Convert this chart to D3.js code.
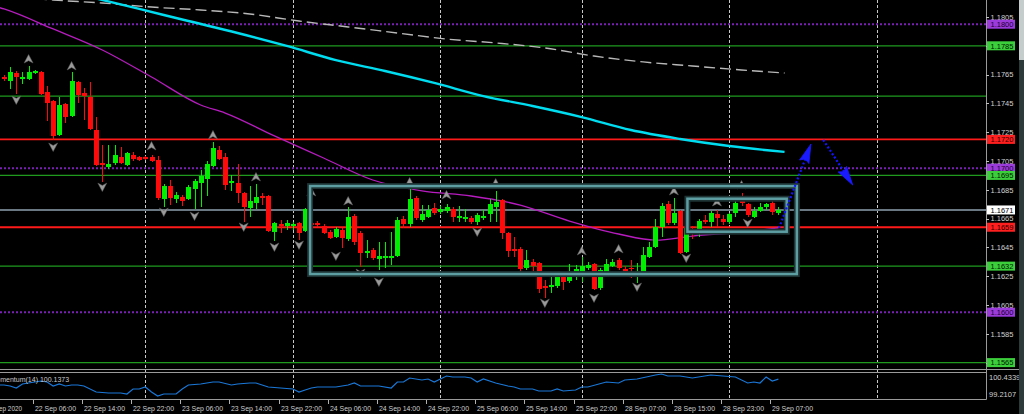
<!DOCTYPE html>
<html><head><meta charset="utf-8">
<script src="https://cdnjs.cloudflare.com/ajax/libs/d3/7.8.5/d3.min.js"></script>
<style>html,body{margin:0;padding:0;background:#000;overflow:hidden}svg{display:block}</style>
</head><body>
<svg id="chart" width="1024" height="414"></svg>
<script>
// ---------- DATA (EURUSD H1, bar index 0 = 22 Sep 01:00) ----------
const opens = [1.17633,1.17606,1.17661,1.17619,1.17619,1.17661,1.17668,1.17529,1.17467,1.17230,
1.17446,1.17362,1.17599,1.17522,1.17494,1.17265,1.17036,1.17008,1.17036,1.17078,
1.17022,1.17092,1.17078,1.17078,1.17078,1.17057,1.16786,1.16876,1.16786,1.16800,
1.16786,1.16856,1.16897,1.16925,1.17015,1.17126,1.17078,1.16897,1.16897,1.16828,
1.16724,1.16758,1.16807,1.16807,1.16557,1.16612,1.16599,1.16599,1.16619,1.16564,
1.16619,1.16619,1.16599,1.16557,1.16522,1.16571,1.16508,1.16668,1.16550,1.16411,
1.16432,1.16369,1.16376,1.16376,1.16390,1.16647,1.16612,1.16793,1.16640,1.16661,
1.16724,1.16696,1.16703,1.16717,1.16654,1.16647,1.16654,1.16626,1.16654,1.16682,
1.16731,1.16779,1.16550,1.16439,1.16439,1.16307,1.16349,1.16342,1.16182,1.16175,
1.16182,1.16251,1.16217,1.16265,1.16272,1.16307,1.16335,1.16168,1.16279,1.16321,
1.16363,1.16300,1.16307,1.16272,1.16272,1.16383,1.16453,1.16592,1.16751,1.16619,
1.16703,1.16418,1.16578,1.16564,1.16640,1.16626,1.16682,1.16647,1.16626,1.16689,
1.16772,1.16751,1.16661,1.16703,1.16731,1.16758,1.16689];
const highs = [1.17647,1.17703,1.17675,1.17668,1.17710,1.17682,1.17675,1.17571,1.17474,1.17494,
1.17453,1.17668,1.17606,1.17557,1.17599,1.17355,1.17161,1.17161,1.17161,1.17147,
1.17112,1.17112,1.17085,1.17085,1.17092,1.17085,1.16890,1.16918,1.16835,1.16814,
1.16883,1.16925,1.16988,1.17050,1.17182,1.17154,1.17105,1.16953,1.17029,1.16835,
1.16876,1.16890,1.16828,1.16814,1.16626,1.16640,1.16640,1.16626,1.16626,1.16724,
1.16710,1.16633,1.16612,1.16571,1.16592,1.16585,1.16731,1.16682,1.16564,1.16501,
1.16446,1.16488,1.16488,1.16557,1.16661,1.16668,1.16862,1.16807,1.16744,1.16744,
1.16758,1.16738,1.16751,1.16731,1.16738,1.16717,1.16668,1.16689,1.16710,1.16786,
1.16842,1.16786,1.16557,1.16522,1.16453,1.16432,1.16369,1.16349,1.16224,1.16244,
1.16258,1.16265,1.16335,1.16328,1.16383,1.16349,1.16342,1.16307,1.16369,1.16369,
1.16376,1.16321,1.16363,1.16342,1.16453,1.16488,1.16647,1.16758,1.16772,1.16793,
1.16710,1.16592,1.16599,1.16647,1.16675,1.16703,1.16710,1.16675,1.16689,1.16786,
1.16828,1.16758,1.16731,1.16758,1.16758,1.16779,1.16731];
const lows = [1.17606,1.17550,1.17515,1.17585,1.17613,1.17654,1.17508,1.17328,1.17196,1.17224,
1.17314,1.17355,1.17453,1.17335,1.17265,1.17015,1.16904,1.16994,1.17022,1.17029,
1.17015,1.17050,1.17050,1.17057,1.17043,1.16779,1.16731,1.16744,1.16758,1.16738,
1.16779,1.16717,1.16731,1.16807,1.17008,1.17057,1.16849,1.16842,1.16758,1.16626,
1.16661,1.16717,1.16744,1.16557,1.16494,1.16550,1.16571,1.16571,1.16501,1.16557,
1.16606,1.16592,1.16543,1.16508,1.16515,1.16446,1.16494,1.16467,1.16314,1.16376,
1.16363,1.16293,1.16307,1.16328,1.16383,1.16585,1.16592,1.16640,1.16626,1.16654,
1.16675,1.16682,1.16689,1.16626,1.16626,1.16626,1.16612,1.16606,1.16640,1.16626,
1.16626,1.16508,1.16383,1.16383,1.16272,1.16293,1.16244,1.16133,1.16099,1.16133,
1.16168,1.16154,1.16203,1.16224,1.16210,1.16293,1.16154,1.16154,1.16272,1.16314,
1.16293,1.16265,1.16238,1.16203,1.16258,1.16376,1.16446,1.16522,1.16606,1.16606,
1.16404,1.16411,1.16508,1.16522,1.16612,1.16592,1.16592,1.16606,1.16612,1.16661,
1.16738,1.16661,1.16654,1.16696,1.16710,1.16675,1.16675];
const closes = [1.17619,1.17668,1.17633,1.17633,1.17668,1.17675,1.17515,1.17453,1.17224,1.17439,
1.17355,1.17606,1.17508,1.17501,1.17272,1.17022,1.17022,1.17029,1.17092,1.17036,
1.17105,1.17064,1.17057,1.17064,1.17050,1.16793,1.16876,1.16793,1.16814,1.16772,
1.16869,1.16911,1.16946,1.17029,1.17140,1.17064,1.16883,1.16911,1.16828,1.16731,
1.16772,1.16800,1.16793,1.16564,1.16619,1.16599,1.16619,1.16612,1.16550,1.16717,
1.16612,1.16606,1.16550,1.16515,1.16578,1.16515,1.16661,1.16488,1.16411,1.16425,
1.16376,1.16390,1.16390,1.16390,1.16640,1.16612,1.16786,1.16654,1.16682,1.16710,
1.16689,1.16717,1.16731,1.16661,1.16668,1.16661,1.16626,1.16675,1.16668,1.16751,
1.16765,1.16550,1.16425,1.16425,1.16300,1.16363,1.16321,1.16161,1.16168,1.16189,
1.16244,1.16210,1.16244,1.16300,1.16321,1.16328,1.16161,1.16293,1.16335,1.16349,
1.16307,1.16279,1.16300,1.16286,1.16397,1.16453,1.16592,1.16738,1.16619,1.16689,
1.16411,1.16585,1.16564,1.16633,1.16626,1.16689,1.16654,1.16626,1.16682,1.16758,
1.16758,1.16675,1.16703,1.16731,1.16751,1.16696,1.16710];

// moving averages (bar index, value)
const slowMaBars   = [0,8,16,24,32,40,48,56,64,72,80,88,96,104,112,120,127];
const slowMaValues = [1.18196,1.18168,1.18147,1.18119,1.18099,1.18071,1.18022,1.17981,1.17939,1.17897,1.17870,1.17835,1.17779,1.17738,1.17710,1.17682,1.17661];
const midMaBars    = [14,22,30,38,46,54,62,70,78,86,94,102,110,118,127];
const midMaValues  = [1.18189,1.18106,1.18022,1.17939,1.17849,1.17751,1.17675,1.17592,1.17501,1.17432,1.17355,1.17265,1.17203,1.17154,1.17113];
const fastMaBars   = [-1,0,8,16,24,32,36,44,52,60,68,76,84,92,100,106,112,120,126];
const fastMaValues = [1.18119,1.18106,1.17967,1.17821,1.17633,1.17439,1.17383,1.17224,1.17071,1.16918,1.16842,1.16807,1.16744,1.16633,1.16543,1.16501,1.16529,1.16557,1.16585];

// Momentum(14)
const momBars = [-1,0,1,2,3,4,5,6,7,8,9,10,11,12,13,15,17,19,20,21,22,23,24,25,26,28,29,30,32,34,35,37,38,40,41,43,45,47,48,49,50,51,54,56,57,58,61,63,64,65,66,68,69,70,71,72,73,75,76,77,78,80,82,83,84,86,87,89,90,91,93,94,95,98,100,101,103,106,107,108,110,112,115,117,119,121,122,123,124,125,126];
const momValues = [99.847,99.847,99.798,99.700,99.896,99.945,99.993,100.042,99.993,99.798,99.896,99.798,99.847,99.847,99.798,99.504,99.455,99.455,99.406,99.651,99.651,99.749,99.504,99.308,99.406,99.406,99.651,99.847,99.896,99.993,99.993,99.847,99.896,99.945,99.945,99.749,99.700,99.651,99.504,99.602,99.700,99.749,99.749,99.847,99.945,99.798,99.798,99.700,99.993,99.993,100.189,100.091,100.140,99.993,100.140,100.287,100.238,100.238,100.189,99.993,100.140,99.945,99.798,99.749,99.651,99.651,99.553,99.553,99.651,99.553,99.602,99.749,99.749,99.993,99.945,100.091,100.140,100.336,100.385,100.287,100.287,100.189,100.336,100.287,100.238,99.945,99.993,99.945,100.238,100.042,100.1373];
const momScaleLabels = ["100.4339","99.2107"];
const momScaleValues = [100.4339,99.2107];
const momLegend = "Momentum(14) 100.1373";

// fractals (bar index, glyph price)
const fractalUpBars   = [4,11,24,34,41,50,56,66,72,80,94,100,109,116,120];
const fractalUpPrices = [1.17758,1.17710,1.17154,1.17231,1.16939,1.16835,1.16772,1.16904,1.16814,1.16897,1.16425,1.16439,1.16842,1.16765,1.16883];
const fractalDnBars   = [2,8,16,26,31,39,44,48,54,58,61,77,88,96,103,111,121];
const fractalDnPrices = [1.17474,1.17147,1.16869,1.16696,1.16668,1.16592,1.16453,1.16467,1.16390,1.16272,1.16210,1.16557,1.16064,1.16099,1.16175,1.16376,1.16619];

// horizontal levels
const levelPrices   = [1.1800,1.1785,1.1750,1.1720,1.1700,1.1695,1.1671,1.1659,1.1632,1.1600,1.1565];
const levelKinds    = ["pivot","green","green","red","pivot","green","bid","red","green","pivot","green"];
const levelLabelled = [true,true,false,true,true,true,true,true,true,true,true];

// rectangles (bar index range, price range)
const boxStartBars = [49.8,111.2];
const boxEndBars   = [129.0,127.35];
const boxHighs     = [1.16876,1.16788];
const boxLows      = [1.16265,1.16559];

// projected arrows (bar index, price)
const upArrowBars   = [126.1,131.3];
const upArrowPrices = [1.16585,1.17168];
const dnArrowBars   = [133.3,138.1];
const dnArrowPrices = [1.17196,1.16883];

// axes
const priceTickLabels = ["1.1805","1.1785","1.1765","1.1745","1.1725","1.1705","1.1685","1.1665","1.1645","1.1625","1.1605","1.1585","1.1565"];
const timeTickBars   = [-3,5,13,21,29,37,45,53,61,69,77,85,93,101,109,117,125];
const timeTickLabels = ["22 Sep 2020","22 Sep 06:00","22 Sep 14:00","22 Sep 22:00","23 Sep 06:00","23 Sep 14:00","23 Sep 22:00","24 Sep 06:00","24 Sep 14:00","24 Sep 22:00","25 Sep 06:00","25 Sep 14:00","25 Sep 22:00","28 Sep 07:00","28 Sep 15:00","28 Sep 23:00","29 Sep 07:00"];
const separatorBars = [23,47,71,94,118,142];

// ---------- LAYOUT / STYLE ----------
const paneRight = 986, mainBottom = 369, momTop = 372, momBottom = 399;
const FONT = "'Liberation Sans', Arial, sans-serif";
const levelStyle = {
  pivot:{stroke:"#7a1fb5", w:2,   dash:"2,2", fill:"#9b3bdc", text:"#1a0030"},
  green:{stroke:"#1f9a1f", w:1.3, dash:null,  fill:"#3ccf3c", text:"#001800"},
  red:  {stroke:"#ff1a1a", w:1.8, dash:null,  fill:"#ff1f1f", text:"#300000"},
  bid:  {stroke:"#6a7884", w:2,   dash:null,  fill:"#ffffff", text:"#000000"}
};

const x  = d3.scaleLinear().domain([0,126]).range([4,778.4]);
const y  = d3.scaleLinear().domain([1.1805,1.1565]).range([17,362.6]);
const ym = d3.scaleLinear().domain([100.4339,99.2107]).range([373,398]);

const svg = d3.select("#chart");
svg.append("rect").attr("width",1024).attr("height",414).attr("fill","#000");

const defs = svg.append("defs");
defs.append("clipPath").attr("id","cMain").append("rect").attr("x",0).attr("y",0).attr("width",paneRight).attr("height",mainBottom);
defs.append("clipPath").attr("id","cMom").append("rect").attr("x",0).attr("y",momTop).attr("width",paneRight).attr("height",momBottom-momTop);
defs.append("clipPath").attr("id","cAll").append("rect").attr("x",0).attr("y",0).attr("width",paneRight).attr("height",momBottom);

// period separators
svg.append("g").attr("clip-path","url(#cAll)").selectAll("line").data(separatorBars).join("line")
  .attr("x1",d=>Math.round(x(d))+0.5).attr("x2",d=>Math.round(x(d))+0.5)
  .attr("y1",0).attr("y2",momBottom)
  .attr("stroke","#c8c8c8").attr("stroke-width",1).attr("stroke-dasharray","3,2");

const main = svg.append("g").attr("clip-path","url(#cMain)");

// levels
const lv = levelPrices.map((p,i)=>({p,k:levelKinds[i],lab:levelLabelled[i]}));
main.selectAll("line.lv").data(lv).join("line").attr("class","lv")
  .attr("x1",0).attr("x2",paneRight)
  .attr("y1",d=>y(d.p)).attr("y2",d=>y(d.p))
  .attr("stroke",d=>levelStyle[d.k].stroke).attr("stroke-width",d=>levelStyle[d.k].w)
  .attr("stroke-dasharray",d=>levelStyle[d.k].dash);

// moving averages
const lineGen = d3.line().x(d=>x(d[0])).y(d=>y(d[1])).curve(d3.curveMonotoneX);
main.append("path").attr("d",lineGen(slowMaBars.map((b,i)=>[b,slowMaValues[i]])))
  .attr("fill","none").attr("stroke","#b8b8b8").attr("stroke-width",1.4).attr("stroke-dasharray","11,5");
main.append("path").attr("d",lineGen(midMaBars.map((b,i)=>[b,midMaValues[i]])))
  .attr("fill","none").attr("stroke","#00dcf0").attr("stroke-width",2.4);
main.append("path").attr("d",lineGen(fastMaBars.map((b,i)=>[b,fastMaValues[i]])))
  .attr("fill","none").attr("stroke","#b81cc0").attr("stroke-width",1.3);

// candles
const bars = opens.map((o,i)=>({i,o,h:highs[i],l:lows[i],c:closes[i]}));
const bull = "#00ee00", bear = "#ff0a0a";
const cg = main.append("g").attr("shape-rendering","crispEdges");
cg.selectAll("rect.w").data(bars).join("rect").attr("class","w")
  .attr("x",d=>Math.round(x(d.i))).attr("width",1)
  .attr("y",d=>y(d.h)).attr("height",d=>Math.max(1,y(d.l)-y(d.h)))
  .attr("fill",d=>d.c>=d.o?bull:bear);
cg.selectAll("rect.b").data(bars).join("rect").attr("class","b")
  .attr("x",d=>Math.round(x(d.i))-2).attr("width",5)
  .attr("y",d=>y(Math.max(d.o,d.c))).attr("height",d=>Math.max(1.5,Math.abs(y(d.o)-y(d.c))))
  .attr("fill",d=>d.c>=d.o?bull:bear);

// fractals
const upPath = "M0,-4.5 L4.5,4 L0,1.6 L-4.5,4 Z";
const dnPath = "M0,4.5 L4.5,-4 L0,-1.6 L-4.5,-4 Z";
main.selectAll("path.fu").data(fractalUpBars.map((b,i)=>[b,fractalUpPrices[i]])).join("path").attr("class","fu")
  .attr("d",upPath).attr("transform",d=>`translate(${x(d[0])},${y(d[1])})`)
  .attr("fill","#9a9a9a").attr("stroke","#5a5a5a").attr("stroke-width",0.5);
main.selectAll("path.fd").data(fractalDnBars.map((b,i)=>[b,fractalDnPrices[i]])).join("path").attr("class","fd")
  .attr("d",dnPath).attr("transform",d=>`translate(${x(d[0])},${y(d[1])})`)
  .attr("fill","#9a9a9a").attr("stroke","#5a5a5a").attr("stroke-width",0.5);

// rectangles
const boxes = boxStartBars.map((b,i)=>({x0:x(b),x1:x(boxEndBars[i]),y0:y(boxHighs[i]),y1:y(boxLows[i])}));
main.selectAll("rect.bxg").data(boxes).join("rect").attr("class","bxg")
  .attr("x",d=>d.x0).attr("y",d=>d.y0).attr("width",d=>d.x1-d.x0).attr("height",d=>d.y1-d.y0)
  .attr("fill","none").attr("stroke","#1d3334").attr("stroke-width",6);
main.selectAll("rect.bx").data(boxes).join("rect").attr("class","bx")
  .attr("x",d=>d.x0).attr("y",d=>d.y0).attr("width",d=>d.x1-d.x0).attr("height",d=>d.y1-d.y0)
  .attr("fill","none").attr("stroke","#5d9ea3").attr("stroke-width",2.5);

// projected arrows
function arrow(bs,ps){
  const x0=x(bs[0]),y0=y(ps[0]),x1=x(bs[1]),y1=y(ps[1]);
  const a=Math.atan2(y1-y0,x1-x0), L=19, Wd=5;
  const bx=x1-L*Math.cos(a), by=y1-L*Math.sin(a);
  main.append("line").attr("x1",x0).attr("y1",y0).attr("x2",bx+4*Math.cos(a)).attr("y2",by+4*Math.sin(a))
    .attr("stroke","#1414ff").attr("stroke-width",2.2).attr("stroke-dasharray","2,2");
  const px=-Math.sin(a), py=Math.cos(a);
  main.append("path").attr("d",`M${x1},${y1} L${bx+Wd*px},${by+Wd*py} L${bx+3*Math.cos(a)},${by+3*Math.sin(a)} L${bx-Wd*px},${by-Wd*py} Z`)
    .attr("fill","#1a1aff").attr("stroke","#1a1aff").attr("stroke-width",0.8);
}
arrow(upArrowBars,upArrowPrices);
arrow(dnArrowBars,dnArrowPrices);

// pane frames
svg.append("line").attr("x1",0).attr("x2",1019).attr("y1",369.5).attr("y2",369.5).attr("stroke","#9a9a9a");
svg.append("line").attr("x1",0).attr("x2",paneRight).attr("y1",372.5).attr("y2",372.5).attr("stroke","#9a9a9a");
svg.append("line").attr("x1",0).attr("x2",paneRight+0.5).attr("y1",momBottom+0.5).attr("y2",momBottom+0.5).attr("stroke","#9a9a9a");
svg.append("line").attr("x1",paneRight+0.5).attr("x2",paneRight+0.5).attr("y1",0).attr("y2",momBottom+0.5).attr("stroke","#9a9a9a");

// momentum
const mom = svg.append("g").attr("clip-path","url(#cMom)");
mom.append("path").attr("d",d3.line().x(d=>x(d[0])).y(d=>ym(d[1]))(momBars.map((b,i)=>[b,momValues[i]])))
  .attr("fill","none").attr("stroke","#1a78d8").attr("stroke-width",1.2);
svg.append("text").attr("x",-9.5).attr("y",381.5).text(momLegend)
  .attr("font-family",FONT).attr("font-size",7).attr("fill","#c8c8c8");
svg.selectAll("text.ml").data(momScaleLabels).join("text").attr("class","ml")
  .attr("x",989).attr("y",(d,i)=>i===0?ym(momScaleValues[i])+7:ym(momScaleValues[i])-1.5).text(d=>d)
  .attr("font-family",FONT).attr("font-size",7.5).attr("fill","#d0d0d0");

// price axis ticks + labels
const ax = svg.append("g");
ax.selectAll("line").data(priceTickLabels).join("line")
  .attr("x1",paneRight).attr("x2",paneRight+3).attr("y1",d=>Math.round(y(+d))+0.5).attr("y2",d=>Math.round(y(+d))+0.5)
  .attr("stroke","#c0c0c0");
ax.selectAll("text").data(priceTickLabels).join("text")
  .attr("x",990.5).attr("y",d=>y(+d)).attr("dy","0.36em").text(d=>d)
  .attr("font-family",FONT).attr("font-size",7.5).attr("fill","#d0d0d0");

// level labels
const lab = svg.append("g");
const labelled = lv.filter(d=>d.lab);
lab.selectAll("rect").data(labelled).join("rect")
  .attr("x",987).attr("y",d=>y(d.p)-4.5).attr("width",28).attr("height",9)
  .attr("fill",d=>levelStyle[d.k].fill);
lab.selectAll("text").data(labelled).join("text")
  .attr("x",990.5).attr("y",d=>y(d.p)).attr("dy","0.36em").text(d=>d.p.toFixed(4))
  .attr("font-family",FONT).attr("font-size",7.5).attr("fill",d=>levelStyle[d.k].text);

// time axis
const tg = svg.append("g");
const tt = timeTickBars.map((b,i)=>({b,t:timeTickLabels[i]}));
tg.selectAll("line").data(tt).join("line")
  .attr("x1",d=>Math.round(x(d.b))-1.5).attr("x2",d=>Math.round(x(d.b))-1.5)
  .attr("y1",momBottom+1).attr("y2",momBottom+5).attr("stroke","#b0b0b0");
tg.selectAll("text").data(tt).join("text")
  .attr("x",d=>Math.round(x(d.b))).attr("y",411).text(d=>d.t)
  .attr("textLength",d=>d.t.length===11?36:41).attr("lengthAdjust","spacingAndGlyphs")
  .attr("font-family",FONT).attr("font-size",7.2).attr("fill","#d0d0d0");

// window edge strip
svg.append("rect").attr("x",1019).attr("y",0).attr("width",5).attr("height",60).attr("fill","#c4cccc");
svg.append("rect").attr("x",1019).attr("y",60).attr("width",5).attr("height",354).attr("fill","#2c3a3a");
</script>
</body></html>
